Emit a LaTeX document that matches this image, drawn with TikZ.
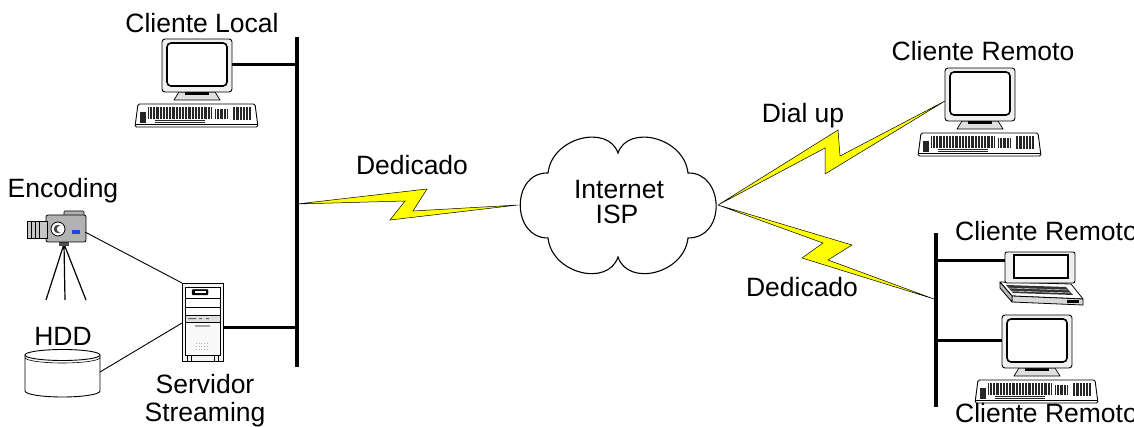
\documentclass[tikz,border=0pt]{standalone}
\usepackage{fontspec}
\setmainfont{Liberation Sans}
\definecolor{boltyellow}{RGB}{255,255,0}
\definecolor{lcdblue}{RGB}{40,70,220}

% desktop computer: monitor, stand and keyboard; origin = monitor top-left
\tikzset{
  keyblock/.style={fill=black!85},
  keygrid/.style={draw=white, line width=0.45pt},
  desktop/.pic={
    % stand
    \draw[fill=gray!25, line width=0.7pt] (17,53) -- (53,53) -- (58,61) -- (12,61) -- cycle;
    \fill[black] (23,53) rectangle (47,56);
    % monitor
    \draw[fill=gray!12, line width=0.9pt, rounded corners=3pt] (0,0) rectangle (70,53);
    \draw[fill=white, line width=1.6pt, rounded corners=4pt] (5,4) rectangle (65,47);
    % keyboard
    \draw[fill=white, line width=0.9pt, rounded corners=1.5pt]
      (-24,65) -- (93,65) -- (96,88) -- (-27,88) -- cycle;
    \draw[line width=0.6pt] (-26,85.5) -- (95,85.5);
    \fill[keyblock] (-14,68) rectangle (50,80);
    \fill[keyblock] (53,70) rectangle (66,80);
    \fill[keyblock] (71,68) rectangle (90,81);
    \fill[keyblock] (-7,81) rectangle (43,84);
    \fill[keyblock] (-22,73) rectangle (-16,84);
    \draw[keygrid] (-14,68) grid[xstep=3.2,ystep=2.4] (50,80);
    \draw[keygrid] (53,70) grid[xstep=3.2,ystep=2.4] (66,80);
    \draw[keygrid] (71,68) grid[xstep=3.2,ystep=2.4] (90,81);
    \draw[keygrid] (-7,82.5) -- (43,82.5);
    \coordinate (-e) at (70,26);
    \coordinate (-w) at (0,33);
    \coordinate (-w2) at (0,25);
  },
  % notebook computer; origin = lid top-left
  laptop/.pic={
    \draw[fill=white, line width=0.8pt, line join=round] (-5,30) -- (66,32) -- (78,47) -- (7,44) -- cycle;
    \draw[fill=gray!30, line width=0.8pt, line join=round] (7,44) -- (78,47) -- (78,53) -- (7,50) -- cycle;
    \draw[fill=gray!55, line width=0.8pt, line join=round] (-5,30) -- (7,44) -- (7,50) -- (-5,36) -- cycle;
    \fill[black!80] (1,33) -- (61,35) -- (68,43) -- (8,41) -- cycle;
    \draw[white, line width=0.4pt] (3,36) -- (63,38) (5,39) -- (66,41);
    \fill[black] (62,48) rectangle (74,51);
    \draw[fill=gray!12, line width=0.9pt, rounded corners=2pt] (0,0) rectangle (70,31);
    \draw[fill=white, line width=1.4pt] (9,3) rectangle (63,26);
    \coordinate (-w) at (0,9);
  },
  % tower server; origin = top-left
  tower/.pic={
    \draw[fill=gray!8, line width=0.9pt] (0,0) rectangle (41,78);
    \draw[fill=white, line width=0.6pt] (3,4) rectangle (38,32);
    \draw[line width=0.6pt] (3,15) -- (38,15) (3,24) -- (38,24);
    \draw[fill=black, rounded corners=1pt] (10,6.5) rectangle (26,12);
    \fill[white] (12.5,8.3) rectangle (23.5,10.2);
    \draw[fill=gray!25, line width=0.6pt] (3,32) rectangle (38,39);
    \fill[black!60] (6,35) rectangle (14,36.2) (17,35) rectangle (20,36.2) (24,35) rectangle (27,36.2);
    \draw[fill=gray!5, line width=0.6pt] (3,39) rectangle (38,72);
    \fill[gray!70] (13,42) rectangle (28,43.8);
    \draw[gray!60, dotted, line width=0.7pt] (14,60) -- (25,60) (14,63) -- (25,63) (14,66) -- (25,66);
    \draw[line width=0.6pt] (5,72) rectangle (36,78) (9,72) -- (9,78) (32,72) -- (32,78);
    \coordinate (-nw) at (0,0);
    \coordinate (-w) at (0,40);
    \coordinate (-e) at (41,44);
  }
}

\begin{document}
\begin{tikzpicture}[x=1pt, y=-1pt,
  lbl/.style={font=\fontsize{26.5}{30}\selectfont, inner sep=0pt, anchor=base},
  lblw/.style={lbl, anchor=base west},
  bus/.style={line width=4pt},
  tap/.style={line width=3pt},
  wire/.style={line width=0.9pt},
  bolt/.style={fill=boltyellow, draw=black, line width=0.5pt, line join=miter}]
\useasboundingbox (0,0) rectangle (1134,427);

% ---- LAN backbones ----
\coordinate (busL-top) at (297,37);
\coordinate (busL-bot) at (297,367);
\coordinate (busR-top) at (936,233);
\coordinate (busR-bot) at (936,407);
\draw[bus] (busL-top) -- (busL-bot);
\draw[bus] (busR-top) -- (busR-bot);

% ---- computers ----
\pic (cl)  at (162,39)  {desktop};
\pic (cr1) at (945,68)  {desktop};
\pic (cr2) at (1005,252) {laptop};
\pic (cr3) at (1002,315) {desktop};
\pic (srv) at (182,283) {tower};

\draw[tap] (cl-e) -- (cl-e -| busL-top);
\draw[tap] (srv-e) -- (srv-e -| busL-top);
\draw[tap] (cr2-w) -- (cr2-w -| busR-top);
\draw[tap] (cr3-w2) -- (cr3-w2 -| busR-top);

% ---- video camera on tripod ----
\draw[line width=1.2pt] (64,244) -- (46,300) (64,244) -- (65,300) (64,244) -- (86,300);
\fill[black!70] (59,241) rectangle (69,246);
\draw[fill=gray!60, line width=0.7pt, rounded corners=1pt] (64,211) rectangle (84,217);
\draw[fill=gray!60, line width=0.8pt, rounded corners=2pt] (46,215) rectangle (86,242);
\draw[fill=gray!45, line width=0.7pt] (27,221) rectangle (47,238);
\draw[line width=0.6pt] (31,221) -- (31,238) (35,221) -- (35,238) (39,221) -- (39,238);
\draw[fill=white, line width=0.8pt] (58,229) circle (7);
\fill[black!75] (58,229) circle (4.2);
\fill[white] (60,229) circle (3.2);
\fill[lcdblue] (72,230) rectangle (80,234);
\coordinate (cam-port) at (85,232);
\draw[wire] (cam-port) -- (srv-nw);

% ---- disk storage ----
\draw[line width=0.9pt, fill=white] (25,355) -- (25,391)
  arc[start angle=180, end angle=0, x radius=37.5, y radius=6] -- (100,355);
\draw[line width=0.9pt, fill=white] (62.5,355) ellipse [x radius=37.5, y radius=5.5];
\draw[line width=0.6pt] (25,357.5) arc[start angle=180, end angle=0, x radius=37.5, y radius=5.5];
\coordinate (hdd-port) at (100,372);
\draw[wire] (hdd-port) -- (srv-w);

% ---- Internet cloud ----
\draw[line width=1.1pt, fill=white]
  (548,173) .. controls (552,137) and (608,124) .. (618,153)
  .. controls (628,124) and (684,137) .. (688,173)
  .. controls (724,172) and (727,238) .. (688,238)
  .. controls (684,274) and (628,287) .. (618,257)
  .. controls (608,287) and (552,274) .. (548,238)
  .. controls (511,238) and (511,172) .. (548,173) -- cycle;
\coordinate (isp-w) at (518,205);
\coordinate (isp-e) at (718,205);
\node[lbl] (isp1) at (619,199) {Internet};
\node[lbl] (isp2) at (617,224) {ISP};

% ---- links ----
\coordinate (lnkL) at (297,204);
\coordinate (lnkR) at (934,299);
\filldraw[bolt] (lnkL) -- (427,189) -- (413,211) -- (isp-w) -- (390,220) -- (405,201) -- cycle;
\filldraw[bolt] (isp-e) -- (838,130) -- (840,156) -- (cr1-w) -- (825,174) -- (825,148) -- cycle;
\filldraw[bolt] (isp-e) -- (852,245) -- (828,260) -- (lnkR) -- (802,258) -- (823,243) -- cycle;

% ---- labels ----
\node[lbl] (t-cl)  at (202,33)  {Cliente Local};
\node[lbl] (t-enc) at (63,198)  {Encoding};
\node[lbl] (t-hdd) at (63,345)  {HDD};
\node[lbl] (t-sv1) at (205,393) {Servidor};
\node[lbl] (t-sv2) at (205,421) {Streaming};
\node[lbl] (t-ded1) at (412,175) {Dedicado};
\node[lbl] (t-dial) at (803,123) {Dial up};
\node[lbl] (t-ded2) at (802,297) {Dedicado};
\node[lbl] (t-cr1) at (983,61)  {Cliente Remoto};
\node[lblw] (t-cr2) at (955,241) {Cliente Remoto};
\node[lblw] (t-cr3) at (955,422) {Cliente Remoto};
\end{tikzpicture}
\end{document}
